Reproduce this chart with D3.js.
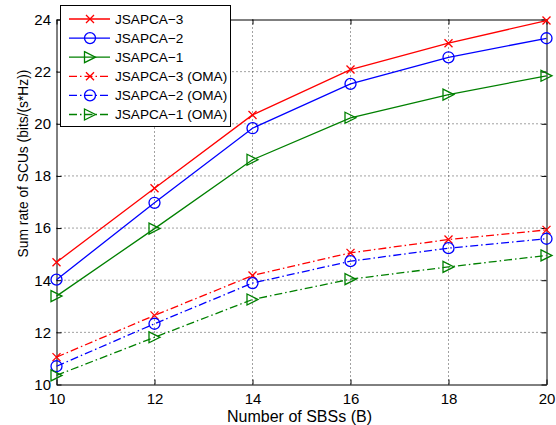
<!DOCTYPE html>
<html>
<head>
<meta charset="utf-8">
<script src="https://cdn.jsdelivr.net/npm/d3@7"></script>
<style>
  body { margin: 0; background: #fff; }
  svg { display: block; font-family: "Liberation Sans", Arial, Helvetica, sans-serif; }
</style>
</head>
<body>
<svg id="chart" width="556" height="425"></svg>
<script>
// Number of SBSs on the x axis
const sbs = [10, 12, 14, 16, 18, 20];

// Sum rate of SCUs for each scheme
const jsapca3 = [14.69, 17.53, 20.34, 22.08, 23.09, 23.96];
const jsapca2 = [14.02, 16.97, 19.83, 21.53, 22.55, 23.28];
const jsapca1 = [13.39, 15.98, 18.62, 20.23, 21.12, 21.84];
const jsapca3Oma = [11.05, 12.65, 14.18, 15.05, 15.56, 15.93];
const jsapca2Oma = [10.70, 12.33, 13.89, 14.73, 15.23, 15.59];
const jsapca1Oma = [10.35, 11.81, 13.26, 14.04, 14.51, 14.95];

const seriesNames = ["JSAPCA\u22123", "JSAPCA\u22122", "JSAPCA\u22121",
  "JSAPCA\u22123 (OMA)", "JSAPCA\u22122 (OMA)", "JSAPCA\u22121 (OMA)"];

const xTicks = [10, 12, 14, 16, 18, 20];
const yTicks = [10, 12, 14, 16, 18, 20, 22, 24];

const series = [
  { name: seriesNames[0], values: jsapca3, color: "#ff0000", marker: "x", dash: null },
  { name: seriesNames[1], values: jsapca2, color: "#0000ff", marker: "o", dash: null },
  { name: seriesNames[2], values: jsapca1, color: "#008000", marker: ">", dash: null },
  { name: seriesNames[3], values: jsapca3Oma, color: "#ff0000", marker: "x", dash: "8,3,1.5,3" },
  { name: seriesNames[4], values: jsapca2Oma, color: "#0000ff", marker: "o", dash: "8,3,1.5,3" },
  { name: seriesNames[5], values: jsapca1Oma, color: "#008000", marker: ">", dash: "8,3,1.5,3" }
];

const svg = d3.select("#chart");
const pLeft = 56.5, pRight = 546.5, pTop = 19.5, pBottom = 384.5;

const x = d3.scaleLinear().domain([10, 20]).range([pLeft, pRight]);
const y = d3.scaleLinear().domain([10, 24]).range([pBottom, pTop]);

// dotted grid
const grid = svg.append("g");
grid.selectAll(".gx").data(xTicks.slice(1, -1)).enter().append("line")
  .attr("x1", d => x(d)).attr("x2", d => x(d)).attr("y1", pTop).attr("y2", pBottom)
  .attr("stroke", "#444").attr("stroke-width", 1).attr("stroke-dasharray", "1,3");
grid.selectAll(".gy").data(yTicks.slice(1, -1)).enter().append("line")
  .attr("y1", d => y(d)).attr("y2", d => y(d)).attr("x1", pLeft).attr("x2", pRight)
  .attr("stroke", "#444").attr("stroke-width", 1).attr("stroke-dasharray", "1,3");

// axes with inward ticks on all four sides
const axisStyle = g => {
  g.select(".domain").attr("stroke", "#000").attr("stroke-width", 1);
  g.selectAll(".tick line").attr("stroke", "#000");
  g.selectAll("text").attr("font-size", 15).attr("fill", "#000")
    .attr("font-family", "'Liberation Sans', Arial, sans-serif");
};
svg.append("g").attr("transform", `translate(0,${pBottom})`)
  .call(d3.axisBottom(x).tickValues(xTicks).tickSizeInner(-5).tickSizeOuter(0).tickPadding(8.5).tickFormat(d3.format("d")))
  .call(axisStyle);
svg.append("g").attr("transform", `translate(0,${pTop})`)
  .call(d3.axisTop(x).tickValues(xTicks).tickSizeInner(-5).tickSizeOuter(0).tickFormat(""))
  .call(axisStyle);
svg.append("g").attr("transform", `translate(${pLeft},0)`)
  .call(d3.axisLeft(y).tickValues(yTicks).tickSizeInner(-5).tickSizeOuter(0).tickPadding(5.5).tickFormat(d3.format("d")))
  .call(axisStyle);
svg.append("g").attr("transform", `translate(${pRight},0)`)
  .call(d3.axisRight(y).tickValues(yTicks).tickSizeInner(-5).tickSizeOuter(0).tickFormat(""))
  .call(axisStyle);

// axis titles
svg.append("text").attr("x", 299.5).attr("y", 421.5)
  .attr("text-anchor", "middle").attr("font-size", 16).text("Number of SBSs (B)");
svg.append("text").attr("transform", "translate(27.5,163.5) rotate(-90)")
  .attr("text-anchor", "middle").attr("font-size", 13.8).text("Sum rate of SCUs (bits/(s*Hz))");

// marker drawing
function drawMarker(g, type, cx, cy, color) {
  if (type === "x") {
    const s = 4;
    g.append("path").attr("d", `M${cx - s},${cy - s}L${cx + s},${cy + s}M${cx - s},${cy + s}L${cx + s},${cy - s}`)
      .attr("stroke", color).attr("stroke-width", 1.3).attr("fill", "none");
  } else if (type === "o") {
    g.append("circle").attr("cx", cx).attr("cy", cy).attr("r", 5.5)
      .attr("stroke", color).attr("stroke-width", 1.3).attr("fill", "none");
  } else {
    const s = 5.5;
    g.append("path").attr("d", `M${cx - s},${cy - s}L${cx + s},${cy}L${cx - s},${cy + s}Z`)
      .attr("stroke", color).attr("stroke-width", 1.3).attr("fill", "none");
  }
}

const line = d3.line().x((d, i) => x(sbs[i])).y(d => y(d));
series.forEach(s => {
  const g = svg.append("g");
  g.append("path").datum(s.values).attr("d", line)
    .attr("fill", "none").attr("stroke", s.color).attr("stroke-width", 1.3)
    .attr("stroke-dasharray", s.dash);
  s.values.forEach((v, i) => drawMarker(g, s.marker, x(sbs[i]), y(v), s.color));
});

// legend
const lg = svg.append("g");
lg.append("rect").attr("x", 60.5).attr("y", 5.5).attr("width", 170).attr("height", 121)
  .attr("fill", "#fff").attr("stroke", "#000").attr("stroke-width", 1);
series.forEach((s, i) => {
  const ly = 19 + i * 19.1;
  lg.append("line").attr("x1", 69).attr("x2", 110).attr("y1", ly).attr("y2", ly)
    .attr("stroke", s.color).attr("stroke-width", 1.3).attr("stroke-dasharray", s.dash);
  drawMarker(lg, s.marker, 90, ly, s.color);
  lg.append("text").attr("x", 115).attr("y", ly + 4.8).attr("font-size", 13.6).text(s.name);
});
</script>
</body>
</html>
